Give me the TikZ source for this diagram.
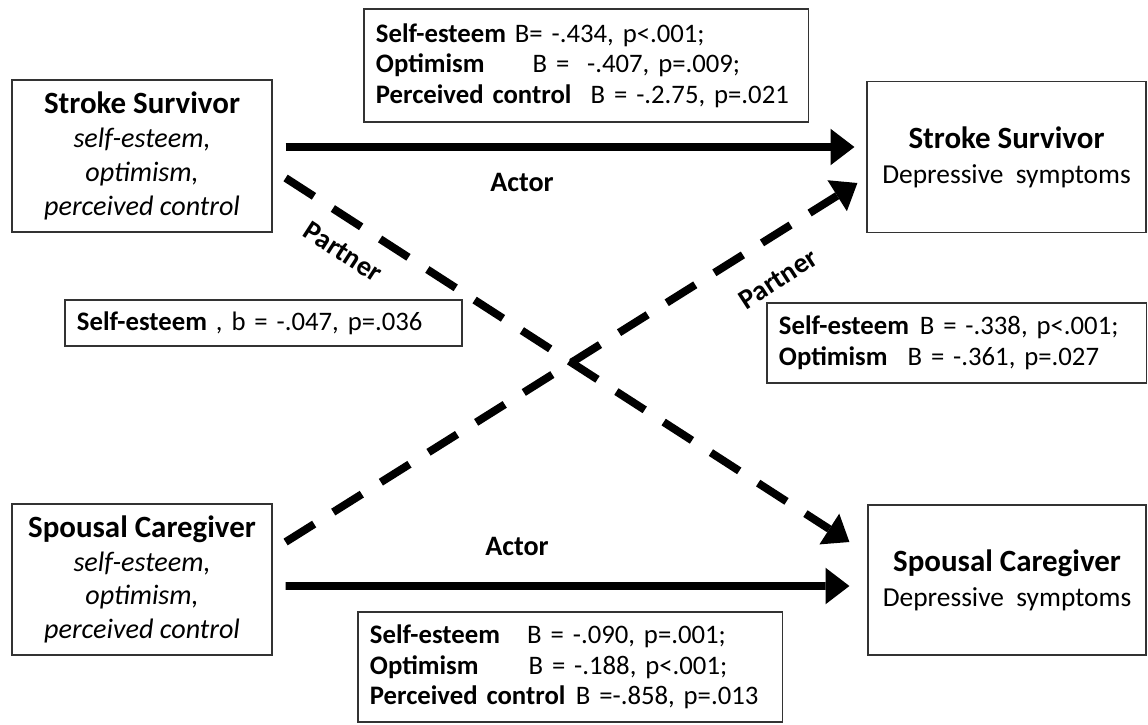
\documentclass[tikz,border=0pt]{standalone}
\usepackage{fontspec}
\setmainfont{Carlito}
\usetikzlibrary{arrows.meta, positioning, calc}
\newcommand{\who}[1]{{\fontsize{22}{24}\selectfont\bfseries #1}}
\frenchspacing

\begin{document}
\begin{tikzpicture}[
        x=0.025cm, y=-0.025cm,
        person/.style={rectangle, draw=black!80, line width=0.8pt, align=center, font=\fontsize{20}{24}\selectfont},
        stats/.style={rectangle, draw=black!80, line width=0.8pt, align=left, inner xsep=0.3cm, inner ysep=0pt, font=\fontsize{19}{21.8}\selectfont},
        actor/.style={draw, line width=5.6pt, -{Triangle[length=17pt, width=26pt, line width=0pt]}},
        partner/.style={actor, dash pattern=on 24pt off 16pt},
        tag/.style={font=\bfseries\fontsize{20}{22}\selectfont}
    ]
        \useasboundingbox (0,0) rectangle (1148,724);

        % persons
        \node [person, minimum width=6.5cm, minimum height=3.8cm] (ssIn) at (142,156) {\who{Stroke Survivor}\\ \textit{self-esteem,}\\ \textit{optimism,}\\ \textit{perceived control}};
        \node [person, minimum width=6.5cm, minimum height=3.775cm] (scIn) at (142,579.5) {\who{Spousal Caregiver}\\ \textit{self-esteem,}\\ \textit{optimism,}\\ \textit{perceived control}};
        \node [person, minimum width=6.975cm, minimum height=3.775cm, font=\fontsize{19.5}{25}\selectfont] (ssOut) at (1006.5,157) {\who{Stroke Survivor}\\ Depressive\ \ symptoms};
        \node [person, minimum width=6.95cm, minimum height=3.75cm, font=\fontsize{19.5}{25}\selectfont] (scOut) at (1007,580) {\who{Spousal Caregiver}\\ Depressive\ \ symptoms};

        % coefficients
        \node [stats, text width=10.5cm, minimum height=2.825cm] (ssStats) at (586,65.5) {\textbf{Self-esteem} B= -.434, p<.001;\\ \textbf{Optimism}\hspace{1.2cm}B = \ -.407, p=.009;\\ \textbf{Perceived control}\hspace{0.48cm}B = -.2.75, p=.021};
        \node [stats, text width=9.325cm, minimum height=1.15cm] (ssPart) at (263.5,323) {\textbf{Self-esteem} , b = -.047, p=.036};
        \node [stats, text width=8.875cm, minimum height=2cm] (scPart) at (956.5,343) {\textbf{Self-esteem}\hspace{0.27cm}B = -.338, p<.001;\\ \textbf{Optimism}\hspace{0.5cm}B = -.361, p=.027};
        \node [stats, text width=10cm, minimum height=2.75cm] (scStats) at (570,667) {\textbf{Self-esteem}\hspace{0.68cm}B = -.090, p=.001;\\ \textbf{Optimism}\hspace{1.25cm}B = -.188, p<.001;\\ \textbf{Perceived control}\hspace{0.26cm}B =-.858, p=.013};

        % labels
        \node [tag] (actTop) at (522,182) {Actor};
        \node [tag] (actBot) at (517,546) {Actor};
        \node [tag, rotate=-33] (partL) at (343,252) {Partner};
        \node [tag, rotate=33] (partR) at (778,279) {Partner};

        % paths
        \path [actor] ($(ssIn.east)+(13,-9)$) -- ($(ssOut.west)+(-12,-10)$);
        \path [actor] ($(scIn.east)+(13,6.5)$) -- ($(scOut.west)+(-18,6)$);
        \path [partner] ($(ssIn.east)+(13,22)$) -- ($(scOut.west)+(-18,-38)$);
        \path [partner] ($(scIn.east)+(13,-37.5)$) -- ($(ssOut.west)+(-9,26)$);
    \end{tikzpicture}
\end{document}
